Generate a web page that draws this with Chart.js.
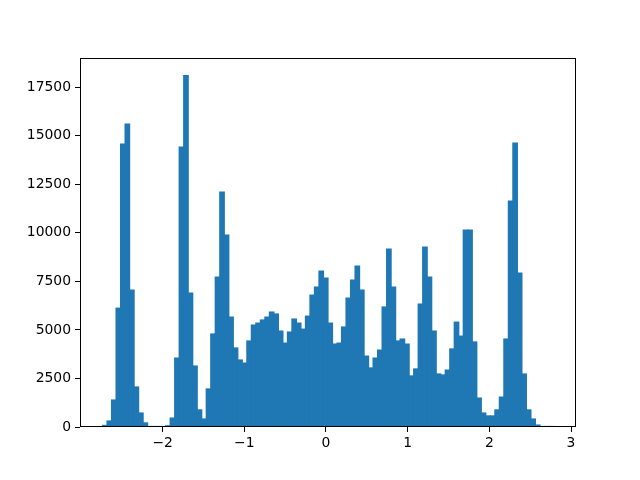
<!DOCTYPE html>
<html>
<head>
<meta charset="utf-8">
<script src="https://cdn.jsdelivr.net/npm/chart.js@4/dist/chart.umd.min.js"></script>
<style>
  html, body { margin: 0; padding: 0; background: #ffffff; }
  #wrap { width: 640px; height: 480px; }
</style>
</head>
<body>
<div id="wrap"><canvas id="c" width="640" height="480"></canvas></div>
<script>
// Histogram: 100 bins
const binStart = -2.736;
const binWidth = 0.05521;
const counts = [
  80, 310, 1390, 6120, 14570, 15600, 7050, 2060, 720, 210,
  15, 5, 5, 20, 60, 460, 3550, 14410, 18100, 6900,
  3140, 880, 410, 1960, 4790, 7720, 12100, 9880, 5660, 4070,
  3450, 3290, 4430, 5250, 5350, 5510, 5660, 5920, 5820, 4940,
  4320, 4890, 5560, 5350, 5040, 5710, 6790, 7210, 8030, 7670,
  5350, 4270, 4320, 5150, 6640, 7570, 8290, 7050, 3650, 3040,
  3550, 3960, 6180, 9160, 7210, 4430, 4530, 4270, 2630, 2990,
  6330, 9270, 7720, 4940, 2730, 2680, 2930, 4020, 5400, 4680,
  10140, 10140, 4380, 1490, 720, 570, 570, 880, 1540, 4530,
  11630, 14620, 7930, 2730, 880, 410, 100, 20, 5, 2
];
const xTicks = [-2, -1, 0, 1, 2, 3];
const yTicks = [0, 2500, 5000, 7500, 10000, 12500, 15000, 17500];

const points = counts.map((c, i) => ({ x: binStart + binWidth * (i + 0.5), y: c }));
const yMax = Math.max(...counts) * 1.05;

function fmt(v) {
  const s = String(v);
  return s.replace('-', '\u2212');
}

const framePlugin = {
  id: 'frame',
  afterDraw(chart) {
    const a = chart.chartArea;
    const ctx = chart.ctx;
    ctx.save();
    ctx.strokeStyle = '#000000';
    ctx.lineWidth = 1;
    ctx.strokeRect(Math.round(a.left) + 0.5, Math.round(a.top) + 0.5,
                   Math.round(a.right - a.left) - 1, Math.round(a.bottom - a.top) - 1);
    ctx.restore();
  }
};

new Chart(document.getElementById('c'), {
  type: 'bar',
  data: {
    datasets: [{
      data: points,
      backgroundColor: '#1f77b4',
      borderWidth: 0,
      inflateAmount: 0.6,
      barPercentage: 1.0,
      categoryPercentage: 1.0
    }]
  },
  options: {
    responsive: false,
    animation: false,
    devicePixelRatio: 1,
    layout: { padding: { left: 0, top: 58, right: 64, bottom: 0 } },
    plugins: { legend: { display: false }, tooltip: { enabled: false } },
    scales: {
      x: {
        type: 'linear',
        min: -3.012,
        max: 3.061,
        offset: false,
        afterFit(scale) { scale.height = 53; },
        afterBuildTicks(scale) { scale.ticks = xTicks.map(v => ({ value: v })); },
        grid: { display: true, offset: false, drawOnChartArea: false, drawTicks: true, tickLength: 5, tickColor: '#000000', color: '#000000' },
        border: { display: false },
        ticks: {
          color: '#000000',
          font: { family: 'DejaVu Sans', size: 13.9 },
          padding: 3,
          maxRotation: 0,
          callback: (v) => fmt(v)
        }
      },
      y: {
        type: 'linear',
        min: 0,
        max: yMax,
        afterFit(scale) { scale.width = 80; },
        afterBuildTicks(scale) { scale.ticks = yTicks.map(v => ({ value: v })); },
        grid: { display: true, offset: false, drawOnChartArea: false, drawTicks: true, tickLength: 5, tickColor: '#000000', color: '#000000' },
        border: { display: false },
        ticks: {
          color: '#000000',
          font: { family: 'DejaVu Sans', size: 13.9 },
          padding: 4,
          callback: (v) => String(v)
        }
      }
    }
  },
  plugins: [framePlugin]
});
</script>
</body>
</html>
